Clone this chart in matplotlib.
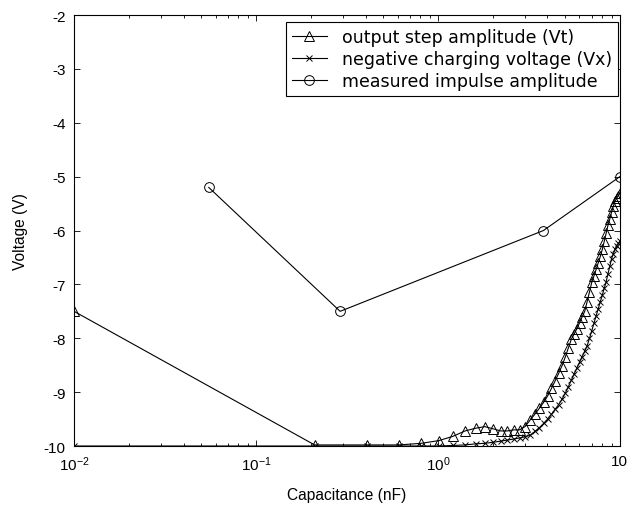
import numpy as np
import matplotlib
matplotlib.use("Agg")
from matplotlib import pyplot as plt

# capacitance sweep (nF) for the two simulated curves
cap_nf = [0.01, 0.21, 0.41, 0.61, 0.81, 1.01, 1.21, 1.41, 1.61, 1.81,
          2.01, 2.21, 2.41, 2.61, 2.81, 3.01, 3.21, 3.41, 3.61, 3.81,
          4.01, 4.21, 4.41, 4.61, 4.81, 5.01, 5.21, 5.41, 5.61, 5.81,
          6.01, 6.21, 6.41, 6.61, 6.81, 7.01, 7.21, 7.41, 7.61, 7.81,
          8.01, 8.21, 8.41, 8.61, 8.81, 9.01, 9.21, 9.41, 9.61, 9.81,
          10.0]

# output step amplitude (Vt)
vt = [-7.5, -9.98, -9.98, -9.98, -9.95, -9.9, -9.82, -9.72, -9.67, -9.64,
      -9.68, -9.72, -9.72, -9.7, -9.7, -9.64, -9.52, -9.41, -9.3, -9.19,
      -9.07, -8.93, -8.79, -8.65, -8.51, -8.35, -8.18, -8.02, -7.92, -7.82,
      -7.71, -7.6, -7.5, -7.32, -7.14, -6.96, -6.84, -6.72, -6.6, -6.48,
      -6.35, -6.2, -6.05, -5.9, -5.78, -5.66, -5.55, -5.46, -5.4, -5.35,
      -5.3]

# negative charging voltage (Vx)
vx = [-10.0, -10.0, -10.0, -10.0, -10.0, -10.0, -9.99, -9.98, -9.96, -9.95,
      -9.93, -9.91, -9.89, -9.87, -9.85, -9.83, -9.8, -9.73, -9.66, -9.58,
      -9.5, -9.41, -9.32, -9.23, -9.13, -9.02, -8.9, -8.78, -8.66, -8.55,
      -8.44, -8.34, -8.24, -8.14, -8.0, -7.86, -7.72, -7.58, -7.45, -7.32,
      -7.2, -7.07, -6.95, -6.8, -6.66, -6.52, -6.43, -6.35, -6.28, -6.24,
      -6.2]

# measured impulse amplitude
meas_cap = [0.055, 0.29, 3.8, 10.0]
meas_v = [-5.2, -7.5, -6.0, -5.0]

y_ticks = [-10, -9, -8, -7, -6, -5, -4, -3, -2]
x_ticks = [0.01, 0.1, 1, 10]
x_tick_labels = ["$10^{-2}$", "$10^{-1}$", "$10^{0}$", "10"]

plt.rcParams["font.family"] = ["Liberation Sans", "DejaVu Sans"]
plt.rcParams["mathtext.fontset"] = "custom"
plt.rcParams["mathtext.rm"] = "Liberation Sans"
plt.rcParams["mathtext.it"] = "Liberation Sans"
plt.rcParams["axes.unicode_minus"] = False


def main():
    fig = plt.figure(figsize=(6.28, 5.10), dpi=100)
    ax = fig.add_axes([0.118, 0.1235, 0.869, 0.845])

    style = dict(color="black", linewidth=0.8, markerfacecolor="none",
                 markeredgecolor="black", markeredgewidth=0.7)
    ax.plot(cap_nf, vt, marker="^", markersize=7,
            label="output step amplitude (Vt)", **style)
    ax.plot(cap_nf, vx, marker="x", markersize=5,
            label="negative charging voltage (Vx)", **style)
    ax.plot(meas_cap, meas_v, marker="o", markersize=7,
            label="measured impulse amplitude", **style)

    ax.set_xscale("log")
    ax.set_xlim(0.01, 10)
    ax.set_ylim(-10, -2)
    ax.set_xticks(x_ticks)
    ax.set_xticklabels(x_tick_labels)
    ax.set_yticks(y_ticks)
    ax.set_yticklabels([str(v) for v in y_ticks])
    ax.tick_params(which="both", direction="in", top=True, right=True,
                   labelsize=11, width=0.6)
    ax.tick_params(which="major", length=4, pad=6)
    ax.tick_params(which="minor", length=2.5)
    for spine in ax.spines.values():
        spine.set_linewidth(0.8)

    ax.set_xlabel("Capacitance (nF)", fontsize=11.2, labelpad=10)
    ax.set_ylabel("Voltage (V)", fontsize=11.2, labelpad=11)

    leg = ax.legend(loc="upper right", bbox_to_anchor=(0.9963, 0.9838),
                    prop={"family": "DejaVu Sans", "size": 12.5},
                    fancybox=False, framealpha=1, edgecolor="black",
                    borderaxespad=0, handlelength=2.0, handletextpad=0.85,
                    labelspacing=0.22, borderpad=0.35)
    leg.get_frame().set_linewidth(0.8)

    fig.savefig("out.png", dpi=100)


main()
